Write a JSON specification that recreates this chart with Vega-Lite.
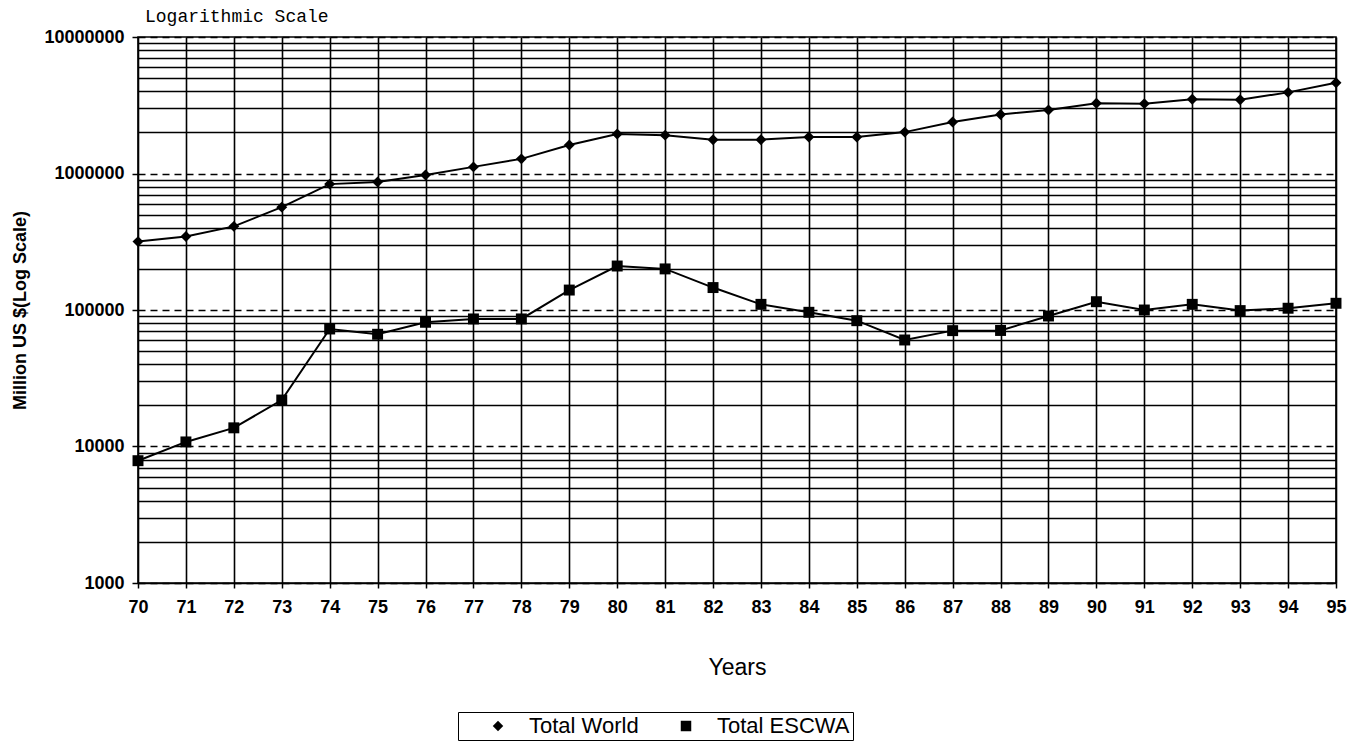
{
  "$schema": "https://vega.github.io/schema/vega-lite/v6.json",
  "autosize": {"type": "none"},
  "padding": {"left": 138, "top": 37, "right": 28, "bottom": 168},
  "width": 1198,
  "height": 546,
  "background": "white",
  "title": {
    "text": "Logarithmic Scale",
    "anchor": "start",
    "frame": "group",
    "font": "Liberation Mono",
    "fontSize": 18,
    "fontWeight": "normal",
    "color": "black",
    "offset": 2,
    "dx": 7
  },
  "config": {
    "view": {"stroke": "black", "strokeWidth": 1.6},
    "axis": {"labelFont": "Liberation Sans", "titleFont": "Liberation Sans", "labelColor": "black", "titleColor": "black"}
  },
  "data": {
    "values": [
      {"year": 70, "series": "Total World", "value": 317000},
      {"year": 71, "series": "Total World", "value": 346000},
      {"year": 72, "series": "Total World", "value": 410000},
      {"year": 73, "series": "Total World", "value": 567000},
      {"year": 74, "series": "Total World", "value": 836000},
      {"year": 75, "series": "Total World", "value": 865000},
      {"year": 76, "series": "Total World", "value": 975000},
      {"year": 77, "series": "Total World", "value": 1118000},
      {"year": 78, "series": "Total World", "value": 1280000},
      {"year": 79, "series": "Total World", "value": 1617000},
      {"year": 80, "series": "Total World", "value": 1945000},
      {"year": 81, "series": "Total World", "value": 1910000},
      {"year": 82, "series": "Total World", "value": 1770000},
      {"year": 83, "series": "Total World", "value": 1770000},
      {"year": 84, "series": "Total World", "value": 1850000},
      {"year": 85, "series": "Total World", "value": 1850000},
      {"year": 86, "series": "Total World", "value": 2010000},
      {"year": 87, "series": "Total World", "value": 2380000},
      {"year": 88, "series": "Total World", "value": 2710000},
      {"year": 89, "series": "Total World", "value": 2920000},
      {"year": 90, "series": "Total World", "value": 3270000},
      {"year": 91, "series": "Total World", "value": 3250000},
      {"year": 92, "series": "Total World", "value": 3500000},
      {"year": 93, "series": "Total World", "value": 3470000},
      {"year": 94, "series": "Total World", "value": 3930000},
      {"year": 95, "series": "Total World", "value": 4620000},
      {"year": 70, "series": "Total ESCWA", "value": 7870},
      {"year": 71, "series": "Total ESCWA", "value": 10800},
      {"year": 72, "series": "Total ESCWA", "value": 13700},
      {"year": 73, "series": "Total ESCWA", "value": 21900},
      {"year": 74, "series": "Total ESCWA", "value": 72600},
      {"year": 75, "series": "Total ESCWA", "value": 66400},
      {"year": 76, "series": "Total ESCWA", "value": 81300},
      {"year": 77, "series": "Total ESCWA", "value": 86000},
      {"year": 78, "series": "Total ESCWA", "value": 86000},
      {"year": 79, "series": "Total ESCWA", "value": 140000},
      {"year": 80, "series": "Total ESCWA", "value": 210000},
      {"year": 81, "series": "Total ESCWA", "value": 200000},
      {"year": 82, "series": "Total ESCWA", "value": 146000},
      {"year": 83, "series": "Total ESCWA", "value": 110000},
      {"year": 84, "series": "Total ESCWA", "value": 96200},
      {"year": 85, "series": "Total ESCWA", "value": 83500},
      {"year": 86, "series": "Total ESCWA", "value": 60300},
      {"year": 87, "series": "Total ESCWA", "value": 70600},
      {"year": 88, "series": "Total ESCWA", "value": 70800},
      {"year": 89, "series": "Total ESCWA", "value": 90400},
      {"year": 90, "series": "Total ESCWA", "value": 115000},
      {"year": 91, "series": "Total ESCWA", "value": 100000},
      {"year": 92, "series": "Total ESCWA", "value": 110000},
      {"year": 93, "series": "Total ESCWA", "value": 99000},
      {"year": 94, "series": "Total ESCWA", "value": 103000},
      {"year": 95, "series": "Total ESCWA", "value": 112000}
    ]
  },
  "encoding": {
    "x": {
      "field": "year",
      "type": "quantitative",
      "scale": {"domain": [70, 95], "nice": false, "zero": false},
      "axis": {
        "title": "Years",
        "titleFontSize": 23,
        "titleFontWeight": "normal",
        "titlePadding": 40,
        "values": [70,71,72,73,74,75,76,77,78,79,80,81,82,83,84,85,86,87,88,89,90,91,92,93,94,95],
        "format": "d",
        "labelFontSize": 18,
        "labelFontWeight": "bold",
        "labelPadding": 10,
        "labelFlush": false,
        "labelOverlap": false,
        "tickSize": 5,
        "tickColor": "black",
        "tickWidth": 1.5,
        "domainColor": "black",
        "domainWidth": 1.6,
        "grid": true,
        "gridColor": "black",
        "gridWidth": 1.6,
        "gridOpacity": 1
      }
    },
    "y": {
      "field": "value",
      "type": "quantitative",
      "scale": {"type": "log", "domain": [1000, 10000000], "nice": false},
      "axis": {
        "title": "Million US $(Log  Scale)",
        "titleFontSize": 18,
        "titleFontWeight": "bold",
        "titlePadding": 14,
        "values": [1000,2000,3000,4000,5000,6000,7000,8000,9000,10000,20000,30000,40000,50000,60000,70000,80000,90000,100000,200000,300000,400000,500000,600000,700000,800000,900000,1000000,2000000,3000000,4000000,5000000,6000000,7000000,8000000,9000000,10000000],
        "labelExpr": "indexof([1000,10000,100000,1000000,10000000], datum.value) >= 0 ? format(datum.value, 'd') : ''",
        "labelFontSize": 18,
        "labelFontWeight": "bold",
        "labelPadding": 8,
        "labelFlush": false,
        "labelOverlap": false,
        "tickColor": "black",
        "tickWidth": 1.5,
        "tickSize": {"condition": {"test": "indexof([1000,10000,100000,1000000,10000000], datum.value) >= 0", "value": 6}, "value": 0},
        "domain": false,
        "grid": true,
        "gridColor": "black",
        "gridWidth": 1.5,
        "gridOpacity": 1,
        "gridDash": {"condition": {"test": "indexof([1000,10000,100000,1000000,10000000], datum.value) >= 0", "value": [7, 5]}, "value": []}
      }
    }
  },
  "layer": [
    {
      "mark": {"type": "line", "color": "black", "strokeWidth": 2},
      "encoding": {"detail": {"field": "series", "type": "nominal"}}
    },
    {
      "mark": {"type": "point", "filled": true, "color": "black", "opacity": 1, "size": 120},
      "encoding": {
        "shape": {
          "field": "series",
          "type": "nominal",
          "scale": {"domain": ["Total World", "Total ESCWA"], "range": ["diamond", "square"]},
          "legend": {
            "title": null,
            "orient": "none",
            "legendX": 320,
            "legendY": 675,
            "direction": "horizontal",
            "strokeColor": "black",
            "padding": 3,
            "labelFont": "Liberation Sans",
            "labelFontSize": 22,
            "labelColor": "black",
            "symbolFillColor": "black",
            "symbolStrokeColor": "black",
            "symbolStrokeWidth": 0,
            "symbolSize": 110,
            "symbolOpacity": 1,
            "symbolOffset": 26,
            "labelOffset": 20,
            "columnPadding": 10
          }
        }
      }
    }
  ]
}
